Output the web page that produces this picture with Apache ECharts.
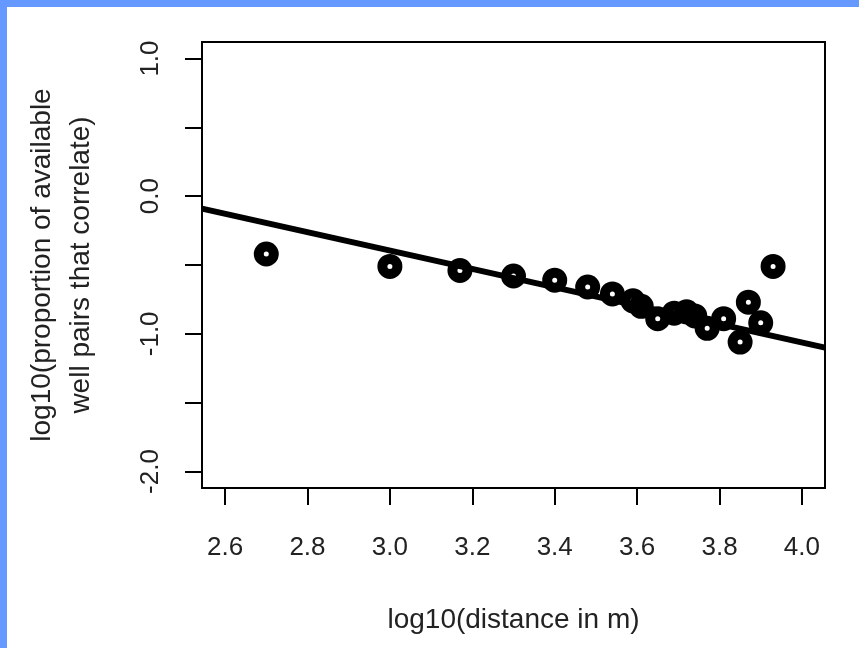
<!DOCTYPE html>
<html>
<head>
<meta charset="utf-8">
<script src="https://cdn.jsdelivr.net/npm/echarts@6/dist/echarts.min.js"></script>
<style>
	html, body { margin: 0; padding: 0; background: #fff; }
	#main { width: 859px; height: 648px; }
</style>
</head>
<body>
<div id="main"></div>
<script>
	// log10(distance in m) and log10(proportion that correlate)
	var distLog = [2.70, 3.00, 3.17, 3.30, 3.40, 3.48, 3.54, 3.59, 3.61, 3.65, 3.69, 3.72, 3.74, 3.77, 3.81, 3.85, 3.87, 3.90, 3.93];
	var propLog = [-0.42, -0.51, -0.54, -0.58, -0.61, -0.66, -0.71, -0.76, -0.80, -0.89, -0.85, -0.84, -0.87, -0.96, -0.89, -1.06, -0.77, -0.92, -0.51];

	// fitted line end points (at the plot edges)
	var fitX = [2.544, 4.056];
	var fitY = [-0.09, -1.10];

	var xTicks = [2.6, 2.8, 3.0, 3.2, 3.4, 3.6, 3.8, 4.0];
	var yTicks = [-2.0, -1.5, -1.0, -0.5, 0.0, 0.5, 1.0];
	var yLabels = [-2.0, -1.0, 0.0, 1.0];

	var myChart = echarts.init(document.getElementById('main'));

	var pts = distLog.map(function(d, i) { return [d, propLog[i]]; });
	var fit = fitX.map(function(d, i) { return [d, fitY[i]]; });

	var font = 'Liberation Sans, Arial, sans-serif';

	var option = {
		backgroundColor: '#fff',
		animation: false,
		grid: {
			left: 202, right: 34, top: 42, bottom: 160,
			show: true,
			borderColor: '#000',
			borderWidth: 2,
			backgroundColor: 'transparent'
		},
		xAxis: {
			type: 'value',
			min: 2.544,
			max: 4.056,
			name: 'log10(distance in m)',
			nameLocation: 'middle',
			nameGap: 118,
			nameTextStyle: { color: '#222', fontSize: 28, fontFamily: font },
			axisLine: { show: false, onZero: false },
			splitLine: { show: false },
			axisTick: {
				show: true, length: 17, customValues: xTicks,
				lineStyle: { color: '#000', width: 2 }
			},
			axisLabel: {
				customValues: xTicks,
				margin: 47,
				color: '#222', fontSize: 26, fontFamily: font,
				formatter: function(v) { return v.toFixed(1); }
			}
		},
		yAxis: {
			type: 'value',
			min: -2.12,
			max: 1.12,
			name: 'log10(proportion of available\nwell pairs that correlate)',
			nameLocation: 'middle',
			nameRotate: 90,
			nameGap: 101,
			nameTextStyle: { color: '#222', fontSize: 28, fontFamily: font, lineHeight: 39 },
			axisLine: { show: false, onZero: false },
			splitLine: { show: false },
			axisTick: {
				show: true, length: 17, customValues: yTicks,
				lineStyle: { color: '#000', width: 2 }
			},
			axisLabel: {
				customValues: yLabels,
				rotate: 90,
				margin: 38,
				color: '#222', fontSize: 26, fontFamily: font,
				formatter: function(v) { return v.toFixed(1); }
			}
		},
		series: [{
			type: 'line',
			data: fit,
			symbol: 'none',
			lineStyle: { color: '#000', width: 6 },
			z: 2
		}, {
			type: 'scatter',
			data: pts,
			symbol: 'circle',
			symbolSize: 15,
			itemStyle: { color: 'rgba(0,0,0,0)', borderColor: '#000', borderWidth: 10, opacity: 1 },
			z: 3
		}],
		graphic: [
			{ type: 'rect', shape: { x: 0, y: 0, width: 859, height: 7 }, style: { fill: '#6699ff' } },
			{ type: 'rect', shape: { x: 0, y: 0, width: 7, height: 648 }, style: { fill: '#6699ff' } }
		]
	};
	myChart.setOption(option);
</script>
</body>
</html>
